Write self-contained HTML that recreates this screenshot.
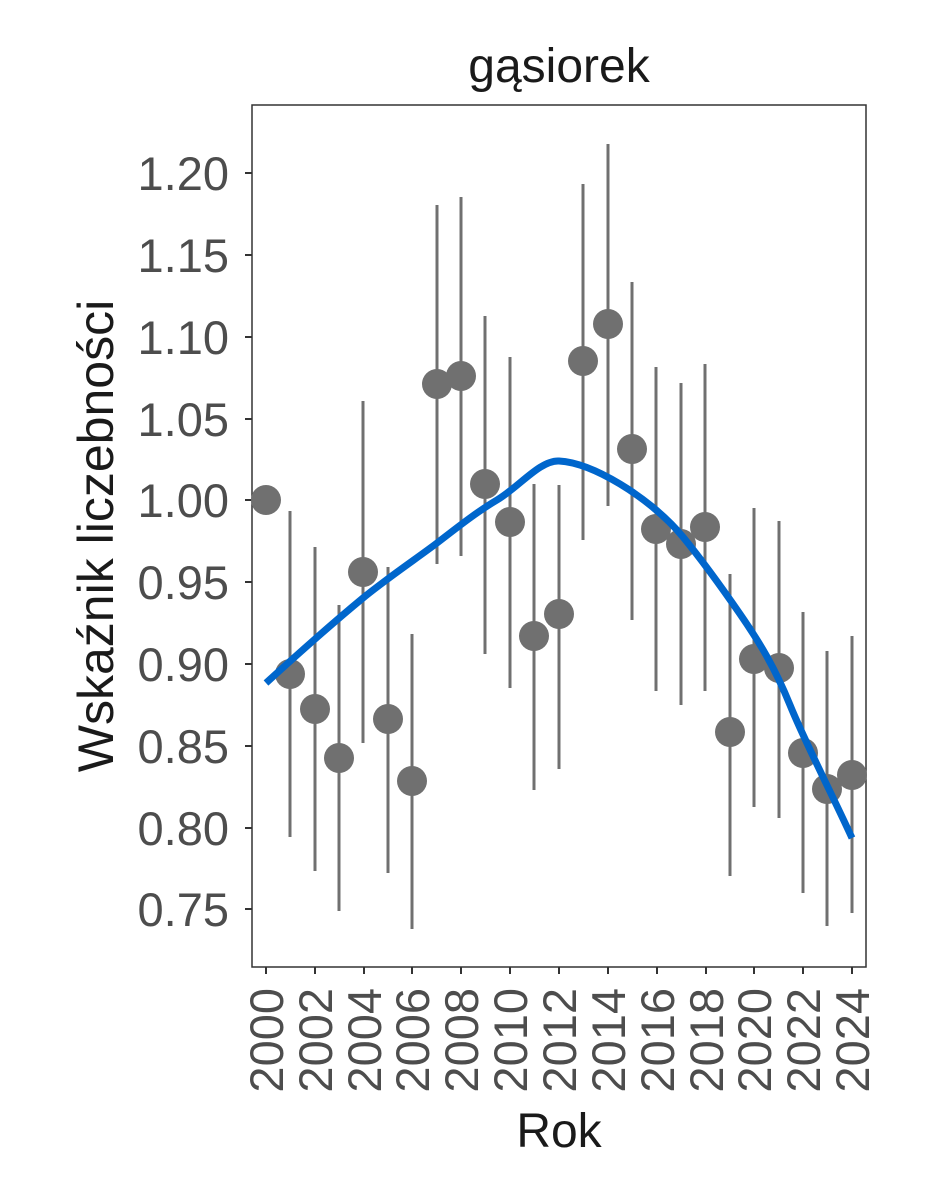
<!DOCTYPE html>
<html><head><meta charset="utf-8"><style>body{margin:0;background:#fff}svg{display:block}</style></head><body>
<svg width="944" height="1181" xmlns="http://www.w3.org/2000/svg" font-family="Liberation Sans, Arial, sans-serif">
<rect width="944" height="1181" fill="#fff"/>
<rect x="252" y="105" width="614" height="862" fill="#fff" stroke="#333" stroke-width="1.5"/>
<text x="559" y="82" font-size="48" text-anchor="middle" fill="#1a1a1a">gąsiorek</text>
<g fill="#4d4d4d" font-size="47" text-anchor="end">
<text x="229" y="190">1.20</text><text x="229" y="272">1.15</text><text x="229" y="354">1.10</text>
<text x="229" y="436">1.05</text><text x="229" y="517">1.00</text><text x="229" y="599">0.95</text>
<text x="229" y="681">0.90</text><text x="229" y="763">0.85</text><text x="229" y="845">0.80</text>
<text x="229" y="926">0.75</text>
</g>
<g stroke="#333" stroke-width="2">
<line x1="245" x2="252" y1="173" y2="173"/><line x1="245" x2="252" y1="255" y2="255"/><line x1="245" x2="252" y1="337" y2="337"/><line x1="245" x2="252" y1="419" y2="419"/><line x1="245" x2="252" y1="500" y2="500"/><line x1="245" x2="252" y1="582" y2="582"/><line x1="245" x2="252" y1="664" y2="664"/><line x1="245" x2="252" y1="746" y2="746"/><line x1="245" x2="252" y1="828" y2="828"/><line x1="245" x2="252" y1="909" y2="909"/>
<line x1="266" x2="266" y1="967" y2="974"/><line x1="315" x2="315" y1="967" y2="974"/><line x1="364" x2="364" y1="967" y2="974"/><line x1="412" x2="412" y1="967" y2="974"/><line x1="461" x2="461" y1="967" y2="974"/><line x1="510" x2="510" y1="967" y2="974"/><line x1="559" x2="559" y1="967" y2="974"/><line x1="608" x2="608" y1="967" y2="974"/><line x1="657" x2="657" y1="967" y2="974"/><line x1="706" x2="706" y1="967" y2="974"/><line x1="754" x2="754" y1="967" y2="974"/><line x1="803" x2="803" y1="967" y2="974"/><line x1="852" x2="852" y1="967" y2="974"/>
</g>
<g fill="#4d4d4d" font-size="47" text-anchor="end">
<text transform="translate(283,988) rotate(-90)">2000</text><text transform="translate(332,988) rotate(-90)">2002</text><text transform="translate(381,988) rotate(-90)">2004</text><text transform="translate(429,988) rotate(-90)">2006</text><text transform="translate(478,988) rotate(-90)">2008</text><text transform="translate(527,988) rotate(-90)">2010</text><text transform="translate(576,988) rotate(-90)">2012</text><text transform="translate(625,988) rotate(-90)">2014</text><text transform="translate(674,988) rotate(-90)">2016</text><text transform="translate(723,988) rotate(-90)">2018</text><text transform="translate(771,988) rotate(-90)">2020</text><text transform="translate(820,988) rotate(-90)">2022</text><text transform="translate(869,988) rotate(-90)">2024</text>
</g>
<text x="559" y="1147" font-size="48" text-anchor="middle" fill="#1a1a1a">Rok</text>
<text transform="translate(113,536) rotate(-90)" font-size="50" text-anchor="middle" fill="#1a1a1a">Wskaźnik liczebności</text>
<g stroke="#707070" stroke-width="3">
<line x1="290" x2="290" y1="511" y2="837"/><line x1="315" x2="315" y1="547" y2="871"/><line x1="339" x2="339" y1="605" y2="911"/><line x1="363" x2="363" y1="401" y2="743"/><line x1="388" x2="388" y1="567" y2="873"/><line x1="412" x2="412" y1="634" y2="929"/><line x1="437" x2="437" y1="205" y2="564"/><line x1="461" x2="461" y1="197" y2="556"/><line x1="485" x2="485" y1="316" y2="654"/><line x1="510" x2="510" y1="357" y2="688"/><line x1="534" x2="534" y1="484" y2="790"/><line x1="559" x2="559" y1="485" y2="769"/><line x1="583" x2="583" y1="184" y2="540"/><line x1="608" x2="608" y1="144" y2="506"/><line x1="632" x2="632" y1="282" y2="620"/><line x1="656" x2="656" y1="367" y2="691"/><line x1="681" x2="681" y1="383" y2="705"/><line x1="705" x2="705" y1="364" y2="691"/><line x1="730" x2="730" y1="574" y2="876"/><line x1="754" x2="754" y1="508" y2="807"/><line x1="779" x2="779" y1="521" y2="818"/><line x1="803" x2="803" y1="612" y2="893"/><line x1="827" x2="827" y1="651" y2="926"/><line x1="852" x2="852" y1="636" y2="913"/>
</g>
<g fill="#707070">
<circle cx="266" cy="500" r="15"/><circle cx="290" cy="674" r="15"/><circle cx="315" cy="709" r="15"/><circle cx="339" cy="758" r="15"/><circle cx="363" cy="572" r="15"/><circle cx="388" cy="719" r="15"/><circle cx="412" cy="781" r="15"/><circle cx="437" cy="384" r="15"/><circle cx="461" cy="376" r="15"/><circle cx="485" cy="484" r="15"/><circle cx="510" cy="522" r="15"/><circle cx="534" cy="636" r="15"/><circle cx="559" cy="614" r="15"/><circle cx="583" cy="361" r="15"/><circle cx="608" cy="324" r="15"/><circle cx="632" cy="449" r="15"/><circle cx="656" cy="529" r="15"/><circle cx="681" cy="544" r="15"/><circle cx="705" cy="527" r="15"/><circle cx="730" cy="732" r="15"/><circle cx="754" cy="659" r="15"/><circle cx="779" cy="668" r="15"/><circle cx="803" cy="753" r="15"/><circle cx="827" cy="789" r="15"/><circle cx="852" cy="775" r="15"/>
</g>
<path fill="none" stroke="#0066cc" stroke-width="7" stroke-linejoin="round" stroke-linecap="butt" d="M266,683 C300,652 340,617 363,598 S420,556 437,543 S475,513 497,500 S540,460 559,461 S600,472 620,484 S665,515 683,537 S720,585 740,614 S775,668 790,705 S830,790 852,838"/>
</svg>
</body></html>
